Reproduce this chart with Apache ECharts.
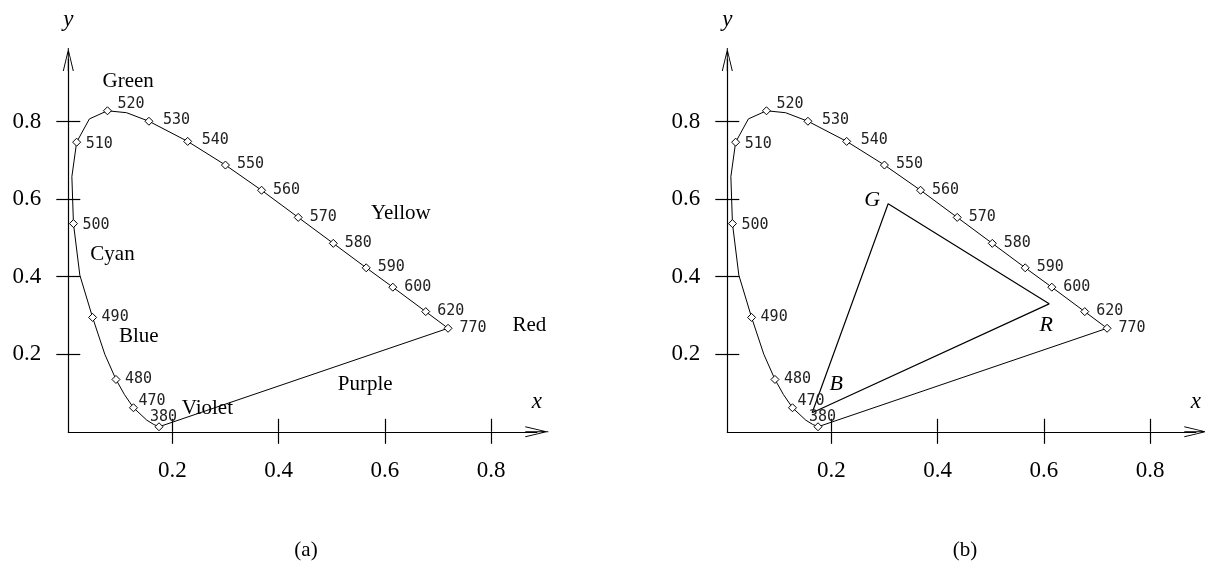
<!DOCTYPE html>
<html>
<head>
<meta charset="utf-8">
<script src="https://cdn.jsdelivr.net/npm/echarts@6/dist/echarts.min.js"></script>
<style>
  html, body { margin: 0; padding: 0; background: #fff; }
  #chart { width: 1205px; height: 578px; }
</style>
</head>
<body>
<div id="chart"></div>
<script>
// Spectral locus samples: wavelength (nm) and chromaticity coordinates x, y
const wavelengths = [380, 450, 460, 470, 475, 480, 485, 490, 495, 500, 505, 510, 515,
                     520, 525, 530, 540, 550, 560, 570, 580, 590, 600, 620, 770];
const locusX = [0.175, 0.165, 0.152, 0.127, 0.110, 0.094, 0.073, 0.050, 0.026, 0.014, 0.011, 0.020, 0.044,
                0.078, 0.114, 0.156, 0.229, 0.300, 0.368, 0.437, 0.503, 0.565, 0.615, 0.677, 0.719];
const locusY = [0.013, 0.019, 0.030, 0.062, 0.096, 0.135, 0.200, 0.295, 0.404, 0.537, 0.658, 0.747, 0.807,
                0.828, 0.823, 0.801, 0.749, 0.688, 0.623, 0.553, 0.486, 0.423, 0.373, 0.310, 0.267];
// Wavelengths that get a marker and a label
const markedWavelengths = [380, 470, 480, 490, 500, 510, 520, 530, 540, 550, 560, 570, 580, 590, 600, 620, 770];

// Axis ticks
const tickValues = [0.2, 0.4, 0.6, 0.8];

// Colour region names, placed in chromaticity coordinates
const regionNames = ['Green', 'Cyan', 'Blue', 'Violet', 'Yellow', 'Red', 'Purple'];
const regionX = [0.117, 0.0875, 0.137, 0.266, 0.630, 0.872, 0.563];
const regionY = [0.903, 0.458, 0.245, 0.061, 0.564, 0.273, 0.123];

// Display primaries (triangle vertices)
const primaryNames = ['G', 'R', 'B'];
const primaryX = [0.307, 0.610, 0.164];
const primaryY = [0.588, 0.330, 0.049];

// Panel captions
const panelCaptions = ['(a)', '(b)'];

// ---- layout / style ----
const X_MIN = 0.0043, X_MAX = 0.886, Y_MIN = 0, Y_MAX = 0.96;
const SERIF = '"Liberation Serif", "DejaVu Serif", serif';
const MONO = '"DejaVu Sans Mono", "Liberation Mono", monospace';
const AXIS_COLOR = '#000';
// open arrow head with a stem, pointing up (rotated by the axis builder)
const ARROW = 'path://M0,23 L5.5,0 L11,23 L10,23 L5.5,3.6 L1,23 Z M5,0 L6,0 L6,23 L5,23 Z';

const grids = [
  { left: 68.3, right: 668.2, top: 59.6, bottom: 146.2 },
  { left: 727.3, right: 9.2, top: 59.6, bottom: 146.2 }
];

// label nudges (px) for individual wavelength labels
const labelNudge = {
  380: [-9, -10], 470: [5, -7], 480: [9, 0], 490: [9, 0], 500: [9, 2], 510: [9, 2],
  520: [10, -6.5], 530: [14, -1], 540: [14, -1]
};
const defaultNudge = [11.5, -0.5];
// primary label nudges (px)
const primaryNudge = { G: [-16, -4], R: [-3, 21], B: [24, -29] };

// plain text annotations: no visible symbol, fully opaque label
const textItemStyle = { opacity: 1, color: 'transparent' };

function xAxes(g) {
  return [
    {
      type: 'value', gridIndex: g, min: X_MIN, max: X_MAX, position: 'bottom',
      axisLine: { show: true, onZero: false, lineStyle: { color: AXIS_COLOR, width: 1.2 },
                  symbol: ['none', ARROW], symbolSize: [11, 23] },
      axisTick: { show: true, inside: false, length: 12, customValues: tickValues,
                  lineStyle: { color: AXIS_COLOR, width: 1.2 } },
      axisLabel: { show: true, customValues: tickValues, margin: 28, color: '#000',
                   fontFamily: SERIF, fontSize: 23, formatter: v => v.toFixed(1) },
      splitLine: { show: false }
    },
    {
      type: 'value', gridIndex: g, min: X_MIN, max: X_MAX, position: 'bottom',
      axisLine: { show: false, onZero: false },
      axisTick: { show: true, inside: true, length: 13, customValues: tickValues,
                  lineStyle: { color: AXIS_COLOR, width: 1.2 } },
      axisLabel: { show: false },
      splitLine: { show: false }
    }
  ];
}

function yAxes(g) {
  return [
    {
      type: 'value', gridIndex: g, min: Y_MIN, max: Y_MAX, position: 'left',
      axisLine: { show: true, onZero: false, lineStyle: { color: AXIS_COLOR, width: 1.2 },
                  symbol: ['none', ARROW], symbolSize: [11, 23] },
      axisTick: { show: true, inside: false, length: 12, customValues: tickValues,
                  lineStyle: { color: AXIS_COLOR, width: 1.2 } },
      axisLabel: { show: true, customValues: tickValues, margin: 27, color: '#000',
                   fontFamily: SERIF, fontSize: 23, formatter: v => v.toFixed(1) },
      splitLine: { show: false }
    },
    {
      type: 'value', gridIndex: g, min: Y_MIN, max: Y_MAX, position: 'left',
      axisLine: { show: false, onZero: false },
      axisTick: { show: true, inside: true, length: 12, customValues: tickValues,
                  lineStyle: { color: AXIS_COLOR, width: 1.2 } },
      axisLabel: { show: false },
      splitLine: { show: false }
    }
  ];
}

const locusPoints = wavelengths.map((w, i) => [locusX[i], locusY[i]]);
const last = wavelengths.length - 1;
const purpleLine = [locusPoints[0], locusPoints[last]];

function locusSeries(g) {
  const ax = { xAxisIndex: 2 * g, yAxisIndex: 2 * g };
  return [
    Object.assign({
      type: 'line', data: locusPoints, showSymbol: false, symbol: 'none', silent: true,
      lineStyle: { color: '#000', width: 1 }, z: 2
    }, ax),
    Object.assign({
      type: 'line', data: purpleLine, showSymbol: false, symbol: 'none', silent: true,
      lineStyle: { color: '#000', width: 1 }, z: 2
    }, ax),
    Object.assign({
      type: 'scatter', silent: true, z: 4, clip: false,
      symbol: 'diamond', symbolSize: 8,
      itemStyle: { color: '#fff', borderColor: '#000', borderWidth: 1, opacity: 1 },
      data: markedWavelengths.map(w => {
        const i = wavelengths.indexOf(w);
        return {
          value: [locusX[i], locusY[i], w],
          label: { offset: labelNudge[w] || defaultNudge }
        };
      }),
      label: {
        show: true, position: 'inside', align: 'left', verticalAlign: 'middle',
        formatter: p => String(p.value[2]),
        fontFamily: MONO, fontSize: 15, color: '#222'
      }
    }, ax)
  ];
}

function axisLetters(g) {
  return {
    type: 'scatter', xAxisIndex: 2 * g, yAxisIndex: 2 * g, silent: true, clip: false,
    symbolSize: 0, itemStyle: textItemStyle,
    data: [
      { value: [X_MIN, 1.062], name: 'y' },
      { value: [0.886, 0.078], name: 'x' }
    ],
    label: {
      show: true, position: 'inside', formatter: p => p.name,
      fontFamily: SERIF, fontStyle: 'italic', fontSize: 23, color: '#000'
    }
  };
}

const series = [];
series.push(...locusSeries(0), ...locusSeries(1));

// colour region names on panel (a)
series.push({
  type: 'scatter', xAxisIndex: 0, yAxisIndex: 0, silent: true, clip: false,
  symbolSize: 0, itemStyle: textItemStyle,
  data: regionNames.map((n, i) => ({ value: [regionX[i], regionY[i]], name: n })),
  label: {
    show: true, position: 'inside', formatter: p => p.name,
    fontFamily: SERIF, fontSize: 21, color: '#000'
  }
});

// gamut triangle on panel (b): B -> G -> R -> B
const triOrder = ['B', 'G', 'R', 'B'];
series.push({
  type: 'line', xAxisIndex: 2, yAxisIndex: 2, silent: true, symbol: 'none', showSymbol: false,
  lineStyle: { color: '#000', width: 1.2 }, z: 3,
  data: triOrder.map(n => {
    const i = primaryNames.indexOf(n);
    return [primaryX[i], primaryY[i]];
  })
});
series.push({
  type: 'scatter', xAxisIndex: 2, yAxisIndex: 2, silent: true, clip: false,
  symbolSize: 0, itemStyle: textItemStyle,
  data: primaryNames.map((n, i) => ({
    value: [primaryX[i], primaryY[i]], name: n,
    label: { offset: primaryNudge[n] }
  })),
  label: {
    show: true, position: 'inside', formatter: p => p.name,
    fontFamily: SERIF, fontStyle: 'italic', fontSize: 22, color: '#000'
  }
});

series.push(axisLetters(0), axisLetters(1));

const chart = echarts.init(document.getElementById('chart'), null, { renderer: 'canvas' });
chart.setOption({
  backgroundColor: '#fff',
  animation: false,
  title: panelCaptions.map((t, i) => ({
    text: t, left: i === 0 ? 301 : 960, top: 535, textAlign: 'center',
    textStyle: { fontFamily: SERIF, fontSize: 21, fontWeight: 'normal', color: '#000' }
  })),
  grid: grids.map(g => Object.assign({ containLabel: false, outerBoundsMode: 'none' }, g)),
  xAxis: [...xAxes(0), ...xAxes(1)],
  yAxis: [...yAxes(0), ...yAxes(1)],
  series: series
});
</script>
</body>
</html>
